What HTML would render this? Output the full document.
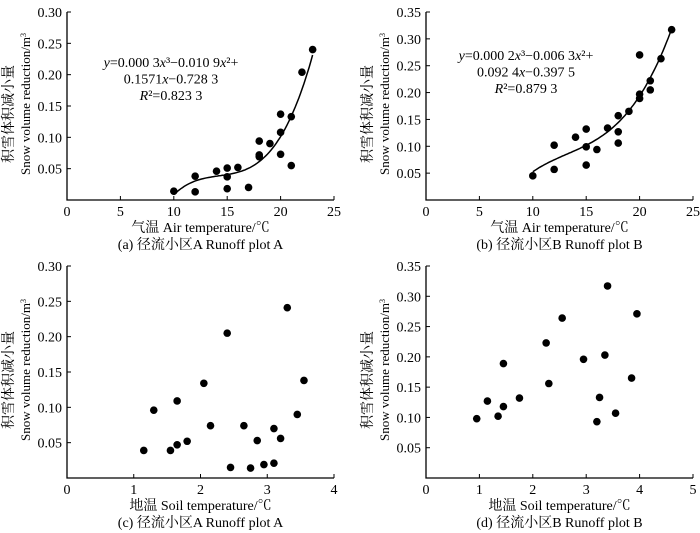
<!DOCTYPE html>
<html><head><meta charset="utf-8">
<style>
html,body{margin:0;padding:0;background:#fff;}
svg{display:block;font-family:"Liberation Serif","Noto Serif CJK SC",serif;}
</style></head>
<body>
<svg id="chart" width="700" height="533" viewBox="0 0 700 533"></svg>
<script>
// Panel (a) air temperature vs snow reduction, plot A
const aX = [10,12,12,14,15,15,15,16,17,18,18,18,19,20,20,20,21,21,22,23];
const aY = [0.014,0.038,0.013,0.046,0.051,0.037,0.018,0.052,0.020,0.094,0.072,0.069,0.090,0.137,0.108,0.073,0.133,0.055,0.204,0.240];
// Panel (b) plot B
const bX = [10,12,12,14,15,15,15,16,17,18,18,18,19,20,20,20,21,21,22,23];
const bY = [0.045,0.102,0.057,0.117,0.132,0.099,0.065,0.094,0.134,0.157,0.127,0.106,0.165,0.270,0.197,0.189,0.222,0.205,0.263,0.317];
// Panel (c) soil temperature, plot A
const cX = [1.15,1.3,1.55,1.65,1.65,1.8,2.05,2.15,2.4,2.45,2.65,2.75,2.85,2.95,3.1,3.1,3.2,3.3,3.45,3.55];
const cY = [0.039,0.096,0.039,0.047,0.109,0.052,0.134,0.074,0.205,0.015,0.074,0.014,0.053,0.019,0.070,0.021,0.056,0.241,0.090,0.138];
// Panel (d) soil temperature, plot B
const dX = [0.95,1.15,1.35,1.45,1.45,1.75,2.25,2.3,2.55,2.95,3.2,3.25,3.35,3.4,3.55,3.85,3.95];
const dY = [0.098,0.127,0.102,0.189,0.118,0.132,0.223,0.156,0.264,0.196,0.093,0.133,0.203,0.317,0.107,0.165,0.271];
// tick labels
const xTicksAir = ["0","5","10","15","20","25"];
const xTicksSoilA = ["0","1","2","3","4"];
const xTicksSoilB = ["0","1","2","3","4","5"];
const yTicks30 = ["0.05","0.10","0.15","0.20","0.25","0.30"];
const yTicks35 = ["0.05","0.10","0.15","0.20","0.25","0.30","0.35"];
const eqA = ['<tspan font-style="italic">y</tspan>=0.000 3<tspan font-style="italic">x</tspan>³−0.010 9<tspan font-style="italic">x</tspan>²+','0.1571<tspan font-style="italic">x</tspan>−0.728 3','<tspan font-style="italic">R</tspan>²=0.823 3'];
const eqB = ['<tspan font-style="italic">y</tspan>=0.000 2<tspan font-style="italic">x</tspan>³−0.006 3<tspan font-style="italic">x</tspan>²+','0.092 4<tspan font-style="italic">x</tspan>−0.397 5','<tspan font-style="italic">R</tspan>²=0.879 3'];

const svg = document.getElementById('chart');
const NS = 'http://www.w3.org/2000/svg';
function mk(tag, attrs, parent){
  const e = document.createElementNS(NS, tag);
  for (const k in attrs) e.setAttribute(k, attrs[k]);
  (parent||svg).appendChild(e);
  return e;
}
function cubicFit(xs, ys){
  const m = xs.reduce((s,v)=>s+v,0)/xs.length;
  const A = [[0,0,0,0],[0,0,0,0],[0,0,0,0],[0,0,0,0]], B=[0,0,0,0];
  xs.forEach((x,i)=>{const t=x-m; const p=[1,t,t*t,t*t*t];
    for(let r=0;r<4;r++){B[r]+=p[r]*ys[i]; for(let c=0;c<4;c++)A[r][c]+=p[r]*p[c];}});
  for(let i=0;i<4;i++){let mx=i;for(let r=i+1;r<4;r++)if(Math.abs(A[r][i])>Math.abs(A[mx][i]))mx=r;
    [A[i],A[mx]]=[A[mx],A[i]];[B[i],B[mx]]=[B[mx],B[i]];
    for(let r=0;r<4;r++){if(r===i)continue;const f=A[r][i]/A[i][i];for(let c=i;c<4;c++)A[r][c]-=f*A[i][c];B[r]-=f*B[i];}}
  const co=B.map((b,i)=>b/A[i][i]);
  return x=>{const t=x-m;return co[0]+co[1]*t+co[2]*t*t+co[3]*t*t*t;};
}
function panel(cfg){
  const g = mk('g', {});
  
  
  const {left,right,top,bottom,xmax,ymax} = cfg;
  const sx = v => left + v/xmax*(right-left);
  const sy = v => bottom - v/ymax*(bottom-top);
  const ax = mk('path', {d:`M${left},${top} V${bottom} H${right}`, stroke:'#000','stroke-width':1.3, fill:'none'}, g);
  
  
  cfg.xt.forEach((t,i)=>{
    const v = +t, x = sx(v);
    if (i>0) mk('line',{x1:x,x2:x,y1:bottom,y2:bottom-4,stroke:'#000','stroke-width':1},g);
    const tx = mk('text',{x:x,y:bottom+16,'text-anchor':'middle','font-size':14},g);
    tx.textContent = t;
    
    
  });
  cfg.yt.forEach(t=>{
    const y = sy(+t);
    mk('line',{x1:left,x2:left+4,y1:y,y2:y,stroke:'#000','stroke-width':1},g);
    const tx = mk('text',{x:left-5,y:y+5,'text-anchor':'end','font-size':14},g);
    tx.textContent = t;
    
    
  });
  const cy = (top+bottom)/2+8;
  const yt1 = mk('text',{x:0,y:0,'text-anchor':'middle','font-size':14,transform:`translate(${left-54},${cy}) rotate(-90)`},g);
  yt1.textContent = '积雪体积减小量';
  
  
  const yt2 = mk('text',{x:0,y:0,'text-anchor':'middle','font-size':13,transform:`translate(${left-37},${cy-10}) rotate(-90)`},g);
  yt2.innerHTML = 'Snow volume reduction/m<tspan dy="-4" font-size="8">3</tspan>';
  
  
  const xtl = mk('text',{x:(left+right)/2,y:bottom+32,'text-anchor':'middle','font-size':14},g);
  xtl.textContent = cfg.xtitle;
  
  
  const cap = mk('text',{x:(left+right)/2,y:bottom+49,'text-anchor':'middle','font-size':14},g);
  cap.textContent = cfg.caption;
  
  
  if (cfg.fit){
    const f = cubicFit(cfg.xs, cfg.ys);
    const x0 = Math.min(...cfg.xs), x1 = Math.max(...cfg.xs);
    let d='';
    for(let i=0;i<=80;i++){const x=x0+(x1-x0)*i/80; d+=(i?'L':'M')+sx(x).toFixed(1)+','+sy(f(x)).toFixed(1);}
    const p = mk('path',{d:d,stroke:'#000','stroke-width':1.5,fill:'none'},g);
    
    
    cfg.eq.forEach((l,i)=>{
      const t = mk('text',{x:cfg.eqx,y:cfg.eqy+i*16.5,'text-anchor':'middle','font-size':14},g);
      t.innerHTML = l;
      
      
    });
  }
  cfg.xs.forEach((x,i)=>{
    const c = mk('circle',{cx:sx(x),cy:sy(cfg.ys[i]),r:3.8,fill:'#000'},g);
    
    
  });
}
panel({name:'panel-a',left:67,right:334,top:12,bottom:200,xmax:25,ymax:0.30,xt:xTicksAir,yt:yTicks30,xs:aX,ys:aY,fit:true,eq:eqA,eqx:171,eqy:67,xtitle:'气温 Air temperature/℃',caption:'(a) 径流小区A Runoff plot A'});
panel({name:'panel-b',left:426,right:693,top:12,bottom:200,xmax:25,ymax:0.35,xt:xTicksAir,yt:yTicks35,xs:bX,ys:bY,fit:true,eq:eqB,eqx:526,eqy:60,xtitle:'气温 Air temperature/℃',caption:'(b) 径流小区B Runoff plot B'});
panel({name:'panel-c',left:67,right:334,top:266,bottom:478,xmax:4,ymax:0.30,xt:xTicksSoilA,yt:yTicks30,xs:cX,ys:cY,fit:false,xtitle:'地温 Soil temperature/℃',caption:'(c) 径流小区A Runoff plot A'});
panel({name:'panel-d',left:426,right:693,top:266,bottom:478,xmax:5,ymax:0.35,xt:xTicksSoilB,yt:yTicks35,xs:dX,ys:dY,fit:false,xtitle:'地温 Soil temperature/℃',caption:'(d) 径流小区B Runoff plot B'});
</script>
</body></html>
